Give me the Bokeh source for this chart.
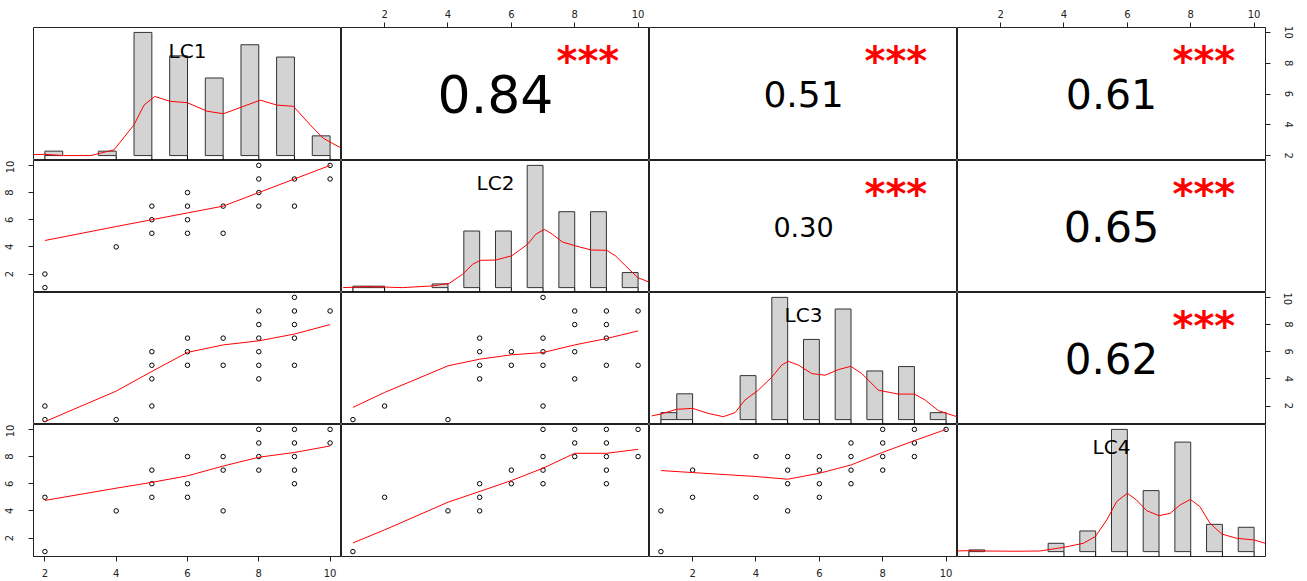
from bokeh.plotting import figure
from bokeh.layouts import gridplot
from bokeh.models import Range1d, LinearAxis, FixedTicker
from bokeh.embed import file_html
from bokeh.resources import INLINE
from bokeh.core.properties import value

# ---------------- data ----------------
var_names = ["LC1", "LC2", "LC3", "LC4"]
var_min = [2, 1, 1, 1]
var_max = [10, 10, 10, 10]
axis_ticks = [2, 4, 6, 8, 10]

# histogram bars (scaled so the tallest bar = 1)
lc1_hist_values = [2, 4, 5, 6, 7, 8, 9, 10]
lc1_hist_heights = [0.036, 0.036, 1.0, 0.81, 0.63, 0.90, 0.80, 0.16]
lc2_hist_values = [1, 2, 4, 5, 6, 7, 8, 9, 10]
lc2_hist_heights = [0.012, 0.012, 0.03, 0.463, 0.463, 1.0, 0.621, 0.621, 0.123]
lc3_hist_values = [1, 2, 4, 5, 6, 7, 8, 9, 10]
lc3_hist_heights = [0.057, 0.211, 0.36, 1.0, 0.656, 0.905, 0.398, 0.434, 0.057]
lc4_hist_values = [1, 4, 5, 6, 7, 8, 9, 10]
lc4_hist_heights = [0.014, 0.068, 0.169, 1.0, 0.499, 0.896, 0.223, 0.199]

# density curves (scaled)
lc1_dens_x = [1.69, 2.0, 2.52, 3.29, 3.94, 4.50, 4.78, 5.08, 5.52, 5.99, 6.55, 7.01,
              7.48, 8.04, 8.51, 8.97, 9.44, 9.81, 10.28]
lc1_dens_y = [0.008, 0.01, 0.0, 0.0, 0.047, 0.25, 0.41, 0.48, 0.44, 0.43, 0.36, 0.34,
              0.39, 0.45, 0.41, 0.40, 0.25, 0.14, 0.066]
lc2_dens_x = [0.69, 1.5, 2.05, 2.57, 3.52, 4.04, 4.46, 4.78, 5.02, 5.51, 6.01, 6.51,
              6.77, 7.04, 7.30, 7.61, 8.03, 8.52, 9.01, 9.29, 9.61, 9.99, 10.34]
lc2_dens_y = [0.0, 0.008, 0.004, 0.0, 0.014, 0.035, 0.109, 0.191, 0.223, 0.226, 0.26,
              0.354, 0.436, 0.477, 0.436, 0.373, 0.341, 0.308, 0.305, 0.259, 0.177,
              0.082, 0.046]
lc3_dens_x = [0.71, 1.0, 1.49, 2.0, 2.49, 2.97, 3.34, 3.65, 4.07, 4.51, 4.81, 5.02,
              5.34, 5.76, 6.18, 6.6, 6.99, 7.34, 7.86, 8.49, 9.0, 9.34, 9.76, 10.34]
lc3_dens_y = [0.03, 0.046, 0.084, 0.092, 0.051, 0.024, 0.057, 0.16, 0.24, 0.35, 0.446,
              0.477, 0.446, 0.377, 0.363, 0.409, 0.436, 0.377, 0.241, 0.209, 0.209,
              0.160, 0.073, 0.024]
lc4_dens_x = [0.61, 1.03, 1.48, 2.51, 3.24, 3.99, 4.61, 4.99, 5.35, 5.66, 6.0, 6.29,
              6.61, 7.0, 7.35, 7.66, 7.99, 8.29, 8.61, 8.98, 9.45, 10.01, 10.35]
lc4_dens_y = [0.005, 0.008, 0.005, 0.003, 0.005, 0.035, 0.068, 0.123, 0.259, 0.409,
              0.477, 0.422, 0.335, 0.294, 0.313, 0.381, 0.427, 0.368, 0.232, 0.144,
              0.109, 0.095, 0.068]

# scatter points (x variable first)
lc1_lc2_x = [2, 2, 4, 5, 5, 5, 6, 6, 6, 6, 7, 7, 8, 8, 8, 8, 9, 9, 10, 10]
lc1_lc2_y = [2, 1, 4, 7, 6, 5, 8, 7, 6, 5, 7, 5, 10, 9, 8, 7, 9, 7, 10, 9]
lc1_lc3_x = [2, 2, 4, 5, 5, 5, 5, 6, 6, 6, 7, 7, 8, 8, 8, 8, 8, 8, 9, 9, 9, 9, 9, 10]
lc1_lc3_y = [2, 1, 1, 6, 5, 4, 2, 7, 6, 5, 7, 5, 9, 8, 7, 6, 5, 4, 10, 9, 8, 7, 5, 9]
lc1_lc4_x = [2, 2, 4, 5, 5, 5, 6, 6, 6, 7, 7, 7, 8, 8, 8, 8, 9, 9, 9, 9, 9, 10, 10]
lc1_lc4_y = [5, 1, 4, 7, 6, 5, 8, 6, 5, 8, 7, 4, 10, 9, 8, 7, 10, 9, 8, 7, 6, 10, 9]
lc2_lc3_x = [1, 2, 4, 5, 5, 5, 5, 6, 6, 7, 7, 7, 7, 7, 8, 8, 8, 8, 9, 9, 9, 9, 10, 10]
lc2_lc3_y = [1, 2, 1, 7, 6, 5, 4, 6, 5, 10, 7, 6, 5, 2, 9, 8, 6, 4, 9, 8, 7, 5, 9, 5]
lc2_lc4_x = [1, 2, 4, 5, 5, 5, 6, 6, 7, 7, 7, 7, 8, 8, 8, 9, 9, 9, 9, 9, 10, 10]
lc2_lc4_y = [1, 5, 4, 6, 5, 4, 7, 6, 10, 8, 7, 6, 10, 9, 8, 10, 9, 8, 7, 6, 10, 8]
lc3_lc4_x = [1, 1, 2, 2, 4, 4, 5, 5, 5, 5, 6, 6, 6, 6, 7, 7, 7, 7, 8, 8, 8, 8, 9, 9, 9, 10]
lc3_lc4_y = [4, 1, 7, 5, 8, 5, 8, 7, 6, 4, 8, 7, 6, 5, 9, 8, 7, 6, 10, 9, 8, 7, 10, 9, 8, 10]

# loess smooth lines
lc1_lc2_fit_x = [2, 4, 5, 6, 7, 8, 9, 10]
lc1_lc2_fit_y = [4.47, 5.5, 6.0, 6.5, 7.0, 8.0, 9.0, 10.0]
lc1_lc3_fit_x = [2, 4, 5, 6, 7, 8, 9, 10]
lc1_lc3_fit_y = [0.85, 3.1, 4.55, 5.95, 6.5, 6.8, 7.3, 8.0]
lc1_lc4_fit_x = [2, 4, 5, 6, 7, 8, 9, 10]
lc1_lc4_fit_y = [4.77, 5.67, 6.1, 6.58, 7.3, 7.95, 8.3, 8.78]
lc2_lc3_fit_x = [1, 2, 4, 5, 6, 7, 8, 9, 10]
lc2_lc3_fit_y = [1.9, 3.0, 4.96, 5.45, 5.77, 5.94, 6.5, 6.97, 7.53]
lc2_lc4_fit_x = [1, 2, 4, 5, 6, 7, 8, 9, 10]
lc2_lc4_fit_y = [1.64, 2.6, 4.64, 5.43, 6.23, 7.14, 8.24, 8.24, 8.53]
lc3_lc4_fit_x = [1, 2, 4, 5, 6, 7, 8, 9, 10]
lc3_lc4_fit_y = [6.97, 6.82, 6.53, 6.33, 6.77, 7.38, 8.31, 9.17, 10.0]

# correlations (upper panels)
cor_row = [0, 0, 0, 1, 1, 2]
cor_col = [1, 2, 3, 2, 3, 3]
cor_r = [0.84, 0.51, 0.61, 0.30, 0.65, 0.62]
cor_stars = ["***", "***", "***", "***", "***", "***"]

# ---------------- assemble ----------------
hist = {0: (lc1_hist_values, lc1_hist_heights), 1: (lc2_hist_values, lc2_hist_heights),
        2: (lc3_hist_values, lc3_hist_heights), 3: (lc4_hist_values, lc4_hist_heights)}
dens = {0: (lc1_dens_x, lc1_dens_y), 1: (lc2_dens_x, lc2_dens_y),
        2: (lc3_dens_x, lc3_dens_y), 3: (lc4_dens_x, lc4_dens_y)}
scat = {(1, 0): (lc1_lc2_x, lc1_lc2_y, lc1_lc2_fit_x, lc1_lc2_fit_y),
        (2, 0): (lc1_lc3_x, lc1_lc3_y, lc1_lc3_fit_x, lc1_lc3_fit_y),
        (3, 0): (lc1_lc4_x, lc1_lc4_y, lc1_lc4_fit_x, lc1_lc4_fit_y),
        (2, 1): (lc2_lc3_x, lc2_lc3_y, lc2_lc3_fit_x, lc2_lc3_fit_y),
        (3, 1): (lc2_lc4_x, lc2_lc4_y, lc2_lc4_fit_x, lc2_lc4_fit_y),
        (3, 2): (lc3_lc4_x, lc3_lc4_y, lc3_lc4_fit_x, lc3_lc4_fit_y)}
cors = {(cor_row[k], cor_col[k]): (cor_r[k], cor_stars[k]) for k in range(len(cor_r))}

FONT = "DejaVu Sans"
COL_W = 308
ROW_H = [133, 132, 132, 133]
B_LEFT, B_RIGHT, B_TOP, B_BOTTOM = 33, 34, 27, 22
DIAG_LO, DIAG_HI = -0.04, 1.04


def padded(lo, hi):
    d = 0.04 * (hi - lo)
    return lo - d, hi + d


def make_axis(side):
    ax = LinearAxis(ticker=FixedTicker(ticks=axis_ticks),
                    major_tick_out=5, major_tick_in=0,
                    minor_tick_out=0, minor_tick_in=0,
                    major_label_text_font=FONT,
                    major_label_text_font_size="10px",
                    major_label_text_color="#222222",
                    axis_line_color="#222222", major_tick_line_color="#222222")
    if side in ("left", "right"):
        ax.major_label_orientation = "vertical"
        ax.major_label_standoff = 15 if side == "left" else 14
    else:
        ax.major_label_standoff = 5 if side == "above" else 7
    return ax


rows = []
for i in range(4):
    row = []
    for j in range(4):
        bl = B_LEFT if j == 0 else 0
        br = B_RIGHT if j == 3 else 0
        bt = B_TOP if i == 0 else 0
        bb = B_BOTTOM if i == 3 else 0
        xlo, xhi = padded(var_min[j], var_max[j])
        if i == j:
            ylo, yhi = DIAG_LO, DIAG_HI
        else:
            ylo, yhi = padded(var_min[i], var_max[i])
        p = figure(width=COL_W + bl + br, height=ROW_H[i] + bt + bb,
                   x_range=Range1d(xlo, xhi), y_range=Range1d(ylo, yhi),
                   x_axis_location=None, y_axis_location=None,
                   toolbar_location=None, tools="", output_backend="svg",
                   min_border_left=bl, min_border_right=br,
                   min_border_top=bt, min_border_bottom=bb,
                   background_fill_color="white", border_fill_color="white",
                   outline_line_color="#222222", outline_line_width=1)
        p.xgrid.visible = False
        p.ygrid.visible = False

        if i == j:
            vals, hts = hist[i]
            lefts = [v if v == var_min[i] else v - 0.5 for v in vals]
            rights = [v + 0.5 if v == var_min[i] else v for v in vals]
            p.quad(left=lefts, right=rights, bottom=0, top=hts,
                   fill_color="#D3D3D3", line_color="#333333", line_width=1)
            dx, dy = dens[i]
            p.line(dx, dy, line_color="red", line_width=1)
            p.segment(x0=vals, y0=[DIAG_LO] * len(vals), x1=vals, y1=[0.0] * len(vals),
                      line_color="black", line_width=1)
            p.text(x=[(xlo + xhi) / 2], y=[ylo + 0.827 * (yhi - ylo)], text=[var_names[i]],
                   text_font=value(FONT), text_font_size=value("20px"),
                   text_align="center", text_baseline="middle", text_color="black")
        elif i > j:
            sx, sy, fx, fy = scat[(i, j)]
            p.scatter(sx, sy, marker="circle", size=4.5, fill_color=None,
                      line_color="black", line_width=1)
            p.line(fx, fy, line_color="red", line_width=1)
        else:
            r, stars = cors[(i, j)]
            fs = 13 + 46 * r
            p.text(x=[(xlo + xhi) / 2], y=[(ylo + yhi) / 2], text=["%.2f" % r],
                   text_font=value(FONT), text_font_size=value("%dpx" % round(fs)),
                   text_align="center", text_baseline="middle", text_color="black")
            p.text(x=[xlo + 0.8 * (xhi - xlo)], y=[ylo + 0.78 * (yhi - ylo)], text=[stars],
                   text_font=value(FONT), text_font_size=value("40px"),
                   text_font_style="bold", y_offset=4,
                   text_align="center", text_baseline="middle", text_color="red")

        if i == 0 and j % 2 == 1:
            p.add_layout(make_axis("above"), "above")
        if i == 3 and j % 2 == 0:
            p.add_layout(make_axis("below"), "below")
        if j == 0 and i % 2 == 1:
            p.add_layout(make_axis("left"), "left")
        if j == 3 and i % 2 == 0:
            p.add_layout(make_axis("right"), "right")
        row.append(p)
    rows.append(row)

grid = gridplot(rows, toolbar_location=None)
open("out.html", "w").write(file_html(grid, INLINE))
